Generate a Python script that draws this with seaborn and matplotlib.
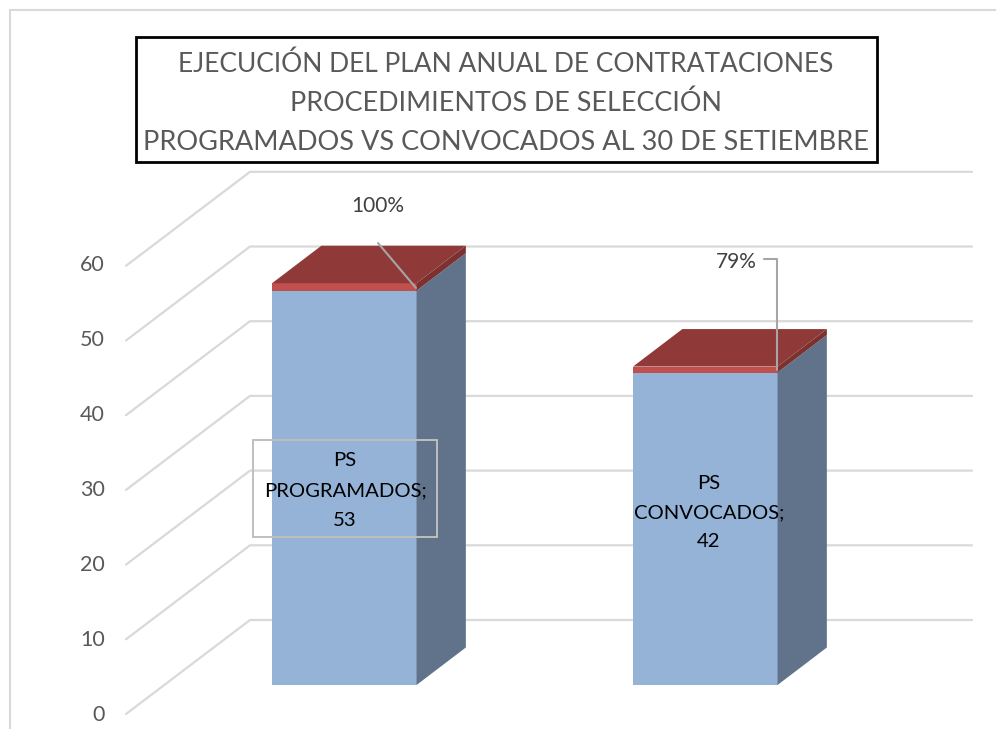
import numpy as np
import pandas as pd
import matplotlib
matplotlib.use("Agg")
import matplotlib.pyplot as plt
from matplotlib.patches import Rectangle
from matplotlib.transforms import Affine2D
import seaborn as sns

categories = ["PS PROGRAMADOS", "PS CONVOCADOS"]
values = [53, 42]
percent_labels = ["100%", "79%"]
band = [1.0, 0.8]
tick_values = [0, 10, 20, 30, 40, 50, 60]
title_lines = ["EJECUCIÓN DEL PLAN ANUAL DE CONTRATACIONES",
               "PROCEDIMIENTOS DE SELECCIÓN",
               "PROGRAMADOS VS CONVOCADOS AL 30 DE SETIEMBRE"]

W, H = 996, 729
sns.set_style("white")
plt.rcParams["font.family"] = ["Lato", "DejaVu Sans"]

fig = plt.figure(figsize=(W / 100, H / 100), dpi=100, facecolor="white")
ax = fig.add_axes([0, 0, 1, 1])

# pixel placement of the category/value scales
X0, XSTEP = 344.3, 361.0
Y0, YSTEP = 685.0, 7.44
BAR_W = 144.5 / XSTEP
DX, DY = 49.3 / XSTEP, 37.5 / YSTEP

df = pd.DataFrame({"cat": categories, "val": values})
df["top"] = df["val"] + np.array(band)

sns.barplot(data=df, x="cat", y="top", color="#C0504D", saturation=1, width=BAR_W,
            order=categories, zorder=3, linewidth=0, ax=ax)
sns.barplot(data=df, x="cat", y="val", color="#95B3D7", saturation=1, width=BAR_W,
            order=categories, zorder=4, linewidth=0, ax=ax)

ax.set_xlim(-X0 / XSTEP, (W - X0) / XSTEP)
ax.set_ylim((Y0 - H) / YSTEP, Y0 / YSTEP)
ax.axis("off")

# pixel transform, origin at top-left
pix = Affine2D().scale(1 / W, -1 / H).translate(0, 1) + fig.transFigure

# back wall gridlines + diagonal floor lines
GRID = "#D9D9D9"
gx_front, gx_back, gx_end = (126 - X0) / XSTEP, (250 - X0) / XSTEP, (972 - X0) / XSTEP
wall0, front0 = (Y0 - 620) / YSTEP, (Y0 - 714) / YSTEP
for t in tick_values:
    v = t * 1.004
    ax.plot([gx_front, gx_back, gx_end], [front0 + v, wall0 + v, wall0 + v],
            color=GRID, lw=1.6, zorder=1, solid_joinstyle="miter")
    ax.text(105, 715.5 - t * 7.5, str(t), transform=pix, ha="right", va="center",
            fontsize=15.5, color="#595959")

# 3-D faces of each bar
for i, (v, b) in enumerate(zip(values, band)):
    l, r = i - BAR_W / 2, i + BAR_W / 2
    t = v + b
    ax.fill([r, r + DX, r + DX, r], [0, DY, v + DY, v], color="#60738B", lw=0, zorder=5)
    ax.fill([r, r + DX, r + DX, r], [v, v + DY, t + DY, t], color="#7A3130", lw=0, zorder=5)
    ax.fill([l, l + DX, r + DX, r], [t, t + DY, t + DY, t], color="#8F3A38", lw=0, zorder=6)

# leader lines and percent labels
LEAD = "#A6A6A6"
ax.plot([378, 416], [243, 288], color=LEAD, lw=1.5, transform=pix, zorder=7)
ax.plot([764, 777, 777], [259, 259, 370], color=LEAD, lw=1.5, transform=pix, zorder=7)
ax.text(378, 206, percent_labels[0], transform=pix, ha="center", va="center",
        fontsize=15, color="#404040")
ax.text(736, 262, percent_labels[1], transform=pix, ha="center", va="center",
        fontsize=15, color="#404040")

# data labels
ax.add_patch(Rectangle((253, 440), 184, 97, transform=pix, fill=False,
                       ec="#BFBFBF", lw=1.4, zorder=8))
name_lines = [c.split(" ") for c in categories]
for cx, ys, nm, val in [(345, (461, 491, 521), name_lines[0], values[0]),
                        (709, (484, 513, 542), name_lines[1], values[1])]:
    for y, s in zip(ys, [nm[0], nm[1] + ";", str(val)]):
        ax.text(cx, y, s, transform=pix, ha="center", va="center", fontsize=14.6,
                color="black", zorder=9)

# title box
ax.add_patch(Rectangle((135.5, 37), 741, 125, transform=pix, fc="white",
                       ec="black", lw=2, zorder=8))
for y, s, fs in zip((64, 103, 143), title_lines, (19.0, 19.4, 19.5)):
    ax.text(506, y, s, transform=pix, ha="center", va="center", fontsize=fs,
            color="#595959", zorder=9)

# outer chart frame
ax.plot([10, 10], [729, 10], color=GRID, lw=1.5, transform=pix, zorder=1)
ax.plot([10, 996], [10, 10], color=GRID, lw=1.5, transform=pix, zorder=1)

fig.savefig("out.png", dpi=100, facecolor="white")
